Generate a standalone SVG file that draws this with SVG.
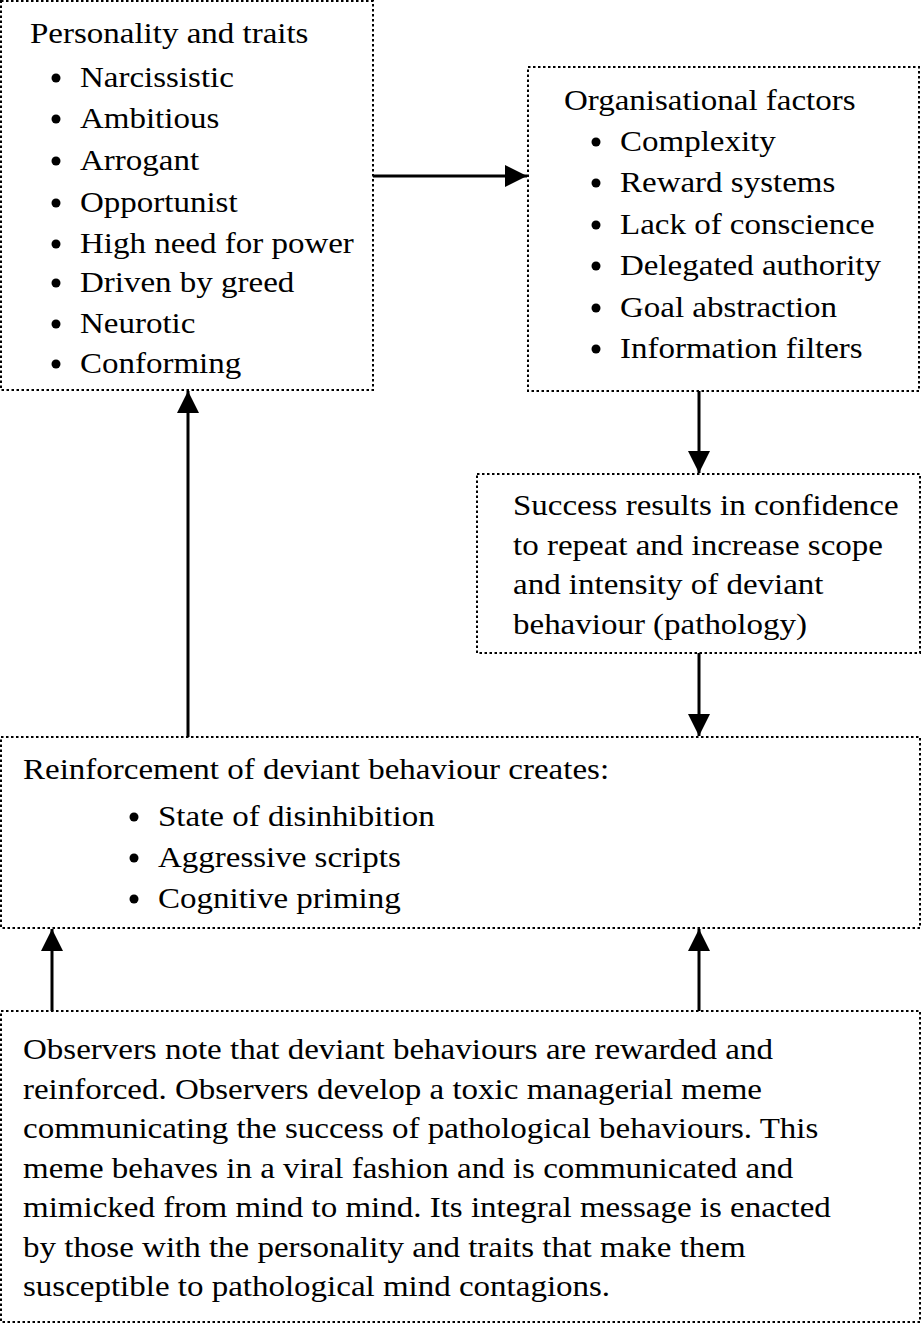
<svg xmlns="http://www.w3.org/2000/svg" width="922" height="1324" viewBox="0 0 922 1324">
<style>
.box{fill:#fff;stroke:#000;stroke-width:2;stroke-dasharray:2.5 2.5}
.con{stroke:#000;stroke-width:3;fill:none;marker-end:url(#ah)}
.b{fill:#000}
</style>
<defs>
<marker id="ah" viewBox="0 0 22 22" refX="22" refY="11" markerWidth="22" markerHeight="22" markerUnits="userSpaceOnUse" orient="auto">
<path d="M0,0 L22,11 L0,22 z" fill="#000"/>
</marker>
</defs>
<rect width="922" height="1324" fill="#fff"/>
<g id="personality" font-family="Liberation Serif, serif" font-size="30" fill="#000">
<rect class="box" x="1" y="1" width="372" height="389"/>
<text transform="matrix(1.1 0 0 1 30 43)">Personality and traits</text>
<circle class="b" cx="56" cy="78" r="4.5"/><text transform="matrix(1.1 0 0 1 80 87)">Narcissistic</text>
<circle class="b" cx="56" cy="119" r="4.5"/><text transform="matrix(1.1 0 0 1 80 128)">Ambitious</text>
<circle class="b" cx="56" cy="161" r="4.5"/><text transform="matrix(1.1 0 0 1 80 170)">Arrogant</text>
<circle class="b" cx="56" cy="203" r="4.5"/><text transform="matrix(1.1 0 0 1 80 212)">Opportunist</text>
<circle class="b" cx="56" cy="244" r="4.5"/><text transform="matrix(1.1 0 0 1 80 253)">High need for power</text>
<circle class="b" cx="56" cy="283" r="4.5"/><text transform="matrix(1.1 0 0 1 80 292)">Driven by greed</text>
<circle class="b" cx="56" cy="324" r="4.5"/><text transform="matrix(1.1 0 0 1 80 333)">Neurotic</text>
<circle class="b" cx="56" cy="364" r="4.5"/><text transform="matrix(1.1 0 0 1 80 373)">Conforming</text>
</g>
<g id="organisational" font-family="Liberation Serif, serif" font-size="30" fill="#000">
<rect class="box" x="528" y="67" width="391" height="324"/>
<text transform="matrix(1.1 0 0 1 564 110)">Organisational factors</text>
<circle class="b" cx="596" cy="142" r="4.5"/><text transform="matrix(1.1 0 0 1 620 151)">Complexity</text>
<circle class="b" cx="596" cy="183" r="4.5"/><text transform="matrix(1.1 0 0 1 620 192)">Reward systems</text>
<circle class="b" cx="596" cy="225" r="4.5"/><text transform="matrix(1.1 0 0 1 620 234)">Lack of conscience</text>
<circle class="b" cx="596" cy="266" r="4.5"/><text transform="matrix(1.1 0 0 1 620 275)">Delegated authority</text>
<circle class="b" cx="596" cy="308" r="4.5"/><text transform="matrix(1.1 0 0 1 620 317)">Goal abstraction</text>
<circle class="b" cx="596" cy="349" r="4.5"/><text transform="matrix(1.1 0 0 1 620 358)">Information filters</text>
</g>
<g id="success" font-family="Liberation Serif, serif" font-size="30" fill="#000">
<rect class="box" x="477" y="474" width="443" height="179"/>
<text transform="matrix(1.1 0 0 1 513 515)">Success results in confidence</text>
<text transform="matrix(1.1 0 0 1 513 555)">to repeat and increase scope</text>
<text transform="matrix(1.1 0 0 1 513 594)">and intensity of deviant</text>
<text transform="matrix(1.1 0 0 1 513 634)">behaviour (pathology)</text>
</g>
<g id="reinforcement" font-family="Liberation Serif, serif" font-size="30" fill="#000">
<rect class="box" x="1" y="737" width="919" height="191"/>
<text transform="matrix(1.1 0 0 1 23 779)">Reinforcement of deviant behaviour creates:</text>
<circle class="b" cx="134" cy="817" r="4.5"/><text transform="matrix(1.1 0 0 1 158 826)">State of disinhibition</text>
<circle class="b" cx="134" cy="858" r="4.5"/><text transform="matrix(1.1 0 0 1 158 867)">Aggressive scripts</text>
<circle class="b" cx="134" cy="899" r="4.5"/><text transform="matrix(1.1 0 0 1 158 908)">Cognitive priming</text>
</g>
<g id="observers" font-family="Liberation Serif, serif" font-size="30" fill="#000">
<rect class="box" x="1" y="1011" width="919" height="311"/>
<text transform="matrix(1.1 0 0 1 23 1059)">Observers note that deviant behaviours are rewarded and</text>
<text transform="matrix(1.1 0 0 1 23 1099)">reinforced. Observers develop a toxic managerial meme</text>
<text transform="matrix(1.1 0 0 1 23 1138)">communicating the success of pathological behaviours. This</text>
<text transform="matrix(1.1 0 0 1 23 1178)">meme behaves in a viral fashion and is communicated and</text>
<text transform="matrix(1.1 0 0 1 23 1217)">mimicked from mind to mind. Its integral message is enacted</text>
<text transform="matrix(1.1 0 0 1 23 1257)">by those with the personality and traits that make them</text>
<text transform="matrix(1.1 0 0 1 23 1296)">susceptible to pathological mind contagions.</text>
</g>
<g id="connectors">
<line class="con" x1="373" y1="176" x2="527" y2="176"/>
<line class="con" x1="699" y1="391" x2="699" y2="473"/>
<line class="con" x1="699" y1="653" x2="699" y2="736"/>
<line class="con" x1="188" y1="737" x2="188" y2="391"/>
<line class="con" x1="52" y1="1011" x2="52" y2="929"/>
<line class="con" x1="699" y1="1011" x2="699" y2="929"/>
</g>
</svg>
